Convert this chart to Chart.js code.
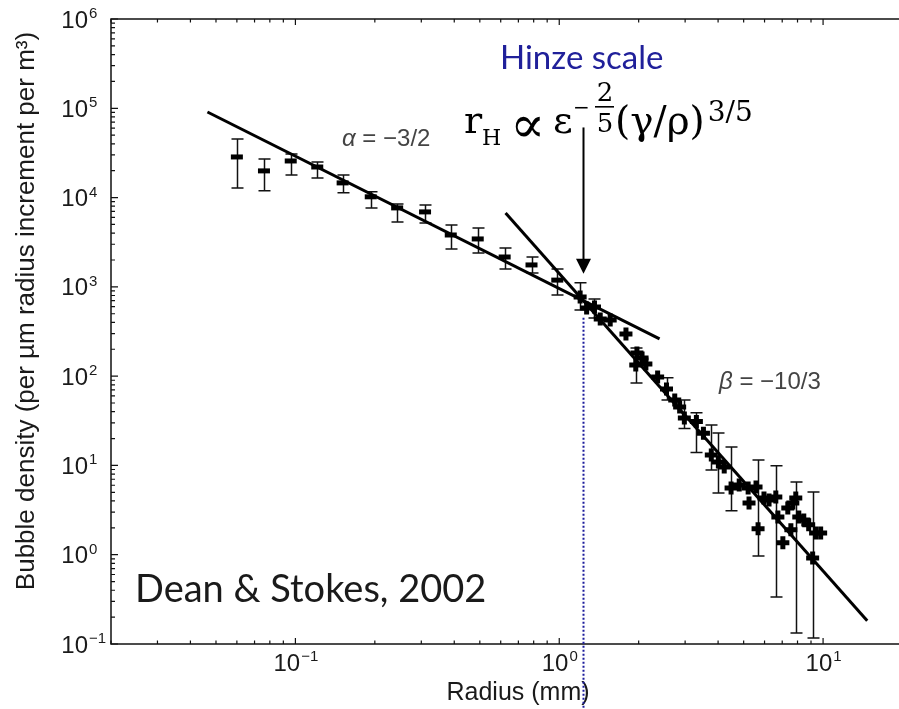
<!DOCTYPE html>
<html>
<head>
<meta charset="utf-8">
<script src="https://cdn.jsdelivr.net/npm/chart.js@4.4.1/dist/chart.umd.min.js"></script>
<style>
  html, body { margin: 0; padding: 0; overflow: hidden; background: #fff; }
  #wrap { width: 914px; height: 709px; }
</style>
</head>
<body>
<div id="wrap"><canvas id="c" width="914" height="709"></canvas></div>
<script>
// bubble size spectrum (radius in mm, density per um per m^3)
const radius = [0.060, 0.076, 0.096, 0.121, 0.151, 0.193, 0.243, 0.310, 0.388, 0.491,
  0.621, 0.785, 0.983, 1.20, 1.27, 1.36, 1.43, 1.56, 1.79, 1.97,
  1.95, 2.06, 2.13, 2.36, 2.55, 2.74, 2.86, 2.98, 3.31, 3.52,
  3.77, 4.01, 4.22, 4.48, 4.81, 5.20, 5.24, 5.57, 5.67, 5.97,
  6.24, 6.62, 6.74, 7.04, 7.35, 7.55, 7.68, 7.88, 8.09, 8.45,
  8.82, 9.13, 9.37, 9.79];
const density = [28500, 19900, 25700, 22000, 14600, 10200, 7660, 6910, 3810, 3440,
  2160, 1760, 1190, 771, 580, 596, 437, 426, 297, 182,
  133, 160, 137, 98, 72, 54, 45, 34, 31, 23,
  13.1, 10.9, 9.6, 5.6, 6.05, 5.6, 3.8, 5.75, 1.95, 4.33,
  4.11, 4.44, 2.65, 1.36, 3.34, 1.90, 3.80, 4.33, 2.65, 2.45,
  2.16, 0.92, 1.75, 1.75];
// error bar ends (null = no bar drawn)
const errLow = [12800, 11900, 17900, 16600, 11300, 7660, 5330, 5200, 2650, 2400,
  1580, 1430, 811, 552, null, 449, null, null, null, null,
  84, null, null, null, 54, null, null, 26, 14, null,
  8.9, 4.9, null, 3.1, null, null, null, null, 0.97, null,
  null, 0.336, null, null, null, null, null, 0.133, null, null,
  null, 0.117, null, null];
const errHigh = [45300, 27000, 30800, 25100, 17900, 11600, 8490, 8280, 4930, 4570,
  2720, 2160, 1580, 1110, null, 733, null, null, null, null,
  207, null, null, null, 96, null, null, 54, 39, null,
  28.4, 23.1, null, 16.1, null, null, null, null, 11.5, null,
  null, 9.93, null, null, null, null, null, 6.53, null, null,
  null, 5.05, null, null];

// power-law fits
const alphaFitX = [0.0464, 2.40];
const alphaFitY = [90800, 261];
const betaFitX = [0.626, 14.7];
const betaFitY = [6730, 0.182];

// Hinze scale marker
const hinzeRadius = 1.23;
const hinzeLineTop = 450;
const arrowFrom = 61000;
const arrowTip = 1400;

// axis decades
const xDecades = [-1, 0, 1];
const yDecades = [-1, 0, 1, 2, 3, 4, 5, 6];
const expText = e => (e < 0 ? '\u2212' + (-e) : String(e));

const AXIS_FONT = '"Liberation Sans", Arial, sans-serif';

const figure = {
  id: 'figure',
  beforeDatasetsDraw(chart) {
    const { ctx, scales: { x, y } } = chart;
    ctx.save();
    ctx.strokeStyle = '#111';
    ctx.lineWidth = 1.5;
    radius.forEach((r, i) => {
      if (errLow[i] == null) return;
      const px = Math.round(x.getPixelForValue(r)) + 0.5;
      const top = y.getPixelForValue(errHigh[i]);
      const bot = y.getPixelForValue(errLow[i]);
      ctx.beginPath();
      ctx.moveTo(px, top); ctx.lineTo(px, bot);
      ctx.moveTo(px - 6, top); ctx.lineTo(px + 6, top);
      ctx.moveTo(px - 6, bot); ctx.lineTo(px + 6, bot);
      ctx.stroke();
    });
    ctx.restore();
  },
  afterDraw(chart) {
    const { ctx, chartArea: a, scales: { x, y } } = chart;
    ctx.save();

    // box
    ctx.strokeStyle = '#111';
    ctx.lineWidth = 1.5;
    ctx.strokeRect(a.left, a.top, a.right - a.left, a.bottom - a.top);

    // inward ticks
    ctx.lineWidth = 1.2;
    ctx.beginPath();
    for (let d = -2; d <= 1; d++) {
      for (let m = 1; m <= 9; m++) {
        const v = m * Math.pow(10, d);
        if (v < 0.02 || v > 20) continue;
        const px = x.getPixelForValue(v);
        const len = m === 1 ? 6 : 3.5;
        ctx.moveTo(px, a.bottom); ctx.lineTo(px, a.bottom - len);
        ctx.moveTo(px, a.top); ctx.lineTo(px, a.top + len);
      }
    }
    for (let d = -1; d <= 6; d++) {
      for (let m = 1; m <= 9; m++) {
        const v = m * Math.pow(10, d);
        if (v > 1e6) continue;
        const py = y.getPixelForValue(v);
        const len = m === 1 ? 7 : 4;
        ctx.moveTo(a.left, py); ctx.lineTo(a.left + len, py);
      }
    }
    ctx.stroke();

    // tick labels
    ctx.fillStyle = '#1a1a1a';
    ctx.textBaseline = 'alphabetic';
    yDecades.forEach(e => {
      const py = y.getPixelForValue(Math.pow(10, e));
      ctx.font = '24px ' + AXIS_FONT;
      ctx.textAlign = 'right';
      ctx.fillText('10', 88, py + 8.5);
      ctx.font = '15px ' + AXIS_FONT;
      ctx.textAlign = 'left';
      ctx.fillText(expText(e), 89, py - 1);
    });
    xDecades.forEach(e => {
      const px = x.getPixelForValue(Math.pow(10, e));
      ctx.font = '15px ' + AXIS_FONT;
      const ew = ctx.measureText(expText(e)).width;
      ctx.font = '24px ' + AXIS_FONT;
      const bw = ctx.measureText('10').width;
      const x0 = px - (bw + ew) / 2;
      ctx.textAlign = 'left';
      ctx.fillText('10', x0, 671);
      ctx.font = '15px ' + AXIS_FONT;
      ctx.fillText(expText(e), x0 + bw + 1, 661);
    });

    // axis titles
    ctx.font = '25px ' + AXIS_FONT;
    ctx.textAlign = 'center';
    ctx.fillText('Radius (mm)', 518, 700);
    ctx.save();
    ctx.translate(34, 311);
    ctx.rotate(-Math.PI / 2);
    ctx.font = '26px ' + AXIS_FONT;
    ctx.fillText('Bubble density (per \u00b5m radius increment per m\u00b3)', 0, 0);
    ctx.restore();

    // slope labels
    ctx.fillStyle = '#444';
    ctx.textAlign = 'left';
    const slopeLabel = (sym, rest, lx, ly) => {
      ctx.font = 'italic 24px ' + AXIS_FONT;
      ctx.fillText(sym, lx, ly);
      const w = ctx.measureText(sym).width;
      ctx.font = '24px ' + AXIS_FONT;
      ctx.fillText(rest, lx + w, ly);
    };
    slopeLabel('\u03b1', ' = \u22123/2', 342, 146);
    slopeLabel('\u03b2', ' = \u221210/3', 719, 389);

    // Hinze radius: dotted line and arrow
    const hx = Math.round(x.getPixelForValue(hinzeRadius)) + 0.5;
    ctx.strokeStyle = '#1c1c9c';
    ctx.lineWidth = 2;
    ctx.setLineDash([2, 2]);
    ctx.beginPath();
    ctx.moveTo(hx, y.getPixelForValue(hinzeLineTop));
    ctx.lineTo(hx, 709);
    ctx.stroke();
    ctx.setLineDash([]);

    const ay0 = y.getPixelForValue(arrowFrom);
    const ay1 = y.getPixelForValue(arrowTip);
    ctx.strokeStyle = '#000';
    ctx.fillStyle = '#000';
    ctx.lineWidth = 2;
    ctx.beginPath();
    ctx.moveTo(hx, ay0);
    ctx.lineTo(hx, ay1 - 12);
    ctx.stroke();
    ctx.beginPath();
    ctx.moveTo(hx, ay1);
    ctx.lineTo(hx - 7.5, ay1 - 15);
    ctx.lineTo(hx + 7.5, ay1 - 15);
    ctx.closePath();
    ctx.fill();

    // annotations
    ctx.fillStyle = '#20209a';
    ctx.font = '33px Lato, "Open Sans", sans-serif';
    ctx.fillText('Hinze scale', 500, 69);

    ctx.fillStyle = '#000';
    const SERIF = '"DejaVu Serif", "Liberation Serif", serif';
    ctx.font = '38px ' + SERIF;
    ctx.fillText('r', 464, 133);
    ctx.font = '22px ' + SERIF;
    ctx.fillText('H', 482, 145);
    ctx.font = '52px ' + SERIF;
    ctx.fillText('\u221d', 510, 142);
    ctx.font = '38px ' + SERIF;
    ctx.fillText('\u03b5', 553, 133);
    ctx.font = '20px ' + SERIF;
    ctx.fillText('\u2212', 573, 113.5);
    ctx.font = '26px ' + SERIF;
    ctx.textAlign = 'center';
    ctx.fillText('2', 605, 101);
    ctx.fillText('5', 605, 132);
    ctx.fillRect(595, 106, 19, 1.6);
    ctx.textAlign = 'left';
    ctx.font = '39px ' + SERIF;
    ctx.fillText('(\u03b3/\u03c1)', 615, 134);
    const pw = ctx.measureText('(\u03b3/\u03c1)').width;
    ctx.font = '28px ' + SERIF;
    ctx.fillText('3/5', 615 + pw + 3, 121);

    ctx.fillStyle = '#1a1a1a';
    ctx.font = '38px Lato, "Open Sans", sans-serif';
    ctx.fillText('Dean & Stokes, 2002', 135, 602);

    ctx.restore();
  }
};

new Chart(document.getElementById('c'), {
  type: 'scatter',
  data: {
    datasets: [
      {
        label: 'bubble density',
        data: radius.map((r, i) => ({ x: r, y: density[i] })),
        pointStyle: radius.map((r, i) => (i < 13 ? 'line' : 'cross')),
        pointRadius: radius.map((r, i) => (i < 13 ? 6 : 6.5)),
        pointBorderWidth: 5,
        pointBorderColor: '#000',
        pointBackgroundColor: '#000',
        clip: false
      },
      {
        label: 'alpha fit',
        data: alphaFitX.map((v, i) => ({ x: v, y: alphaFitY[i] })),
        showLine: true,
        borderColor: '#000',
        borderWidth: 3,
        pointRadius: 0
      },
      {
        label: 'beta fit',
        data: betaFitX.map((v, i) => ({ x: v, y: betaFitY[i] })),
        showLine: true,
        borderColor: '#000',
        borderWidth: 3,
        pointRadius: 0
      }
    ]
  },
  options: {
    responsive: false,
    animation: false,
    events: [],
    layout: { padding: { left: 111, top: 19, right: 8, bottom: 65 } },
    plugins: { legend: { display: false }, tooltip: { enabled: false } },
    scales: {
      x: { type: 'logarithmic', min: 0.02, max: 20, display: false },
      y: { type: 'logarithmic', min: 0.1, max: 1e6, display: false }
    }
  },
  plugins: [figure]
});
</script>
</body>
</html>
